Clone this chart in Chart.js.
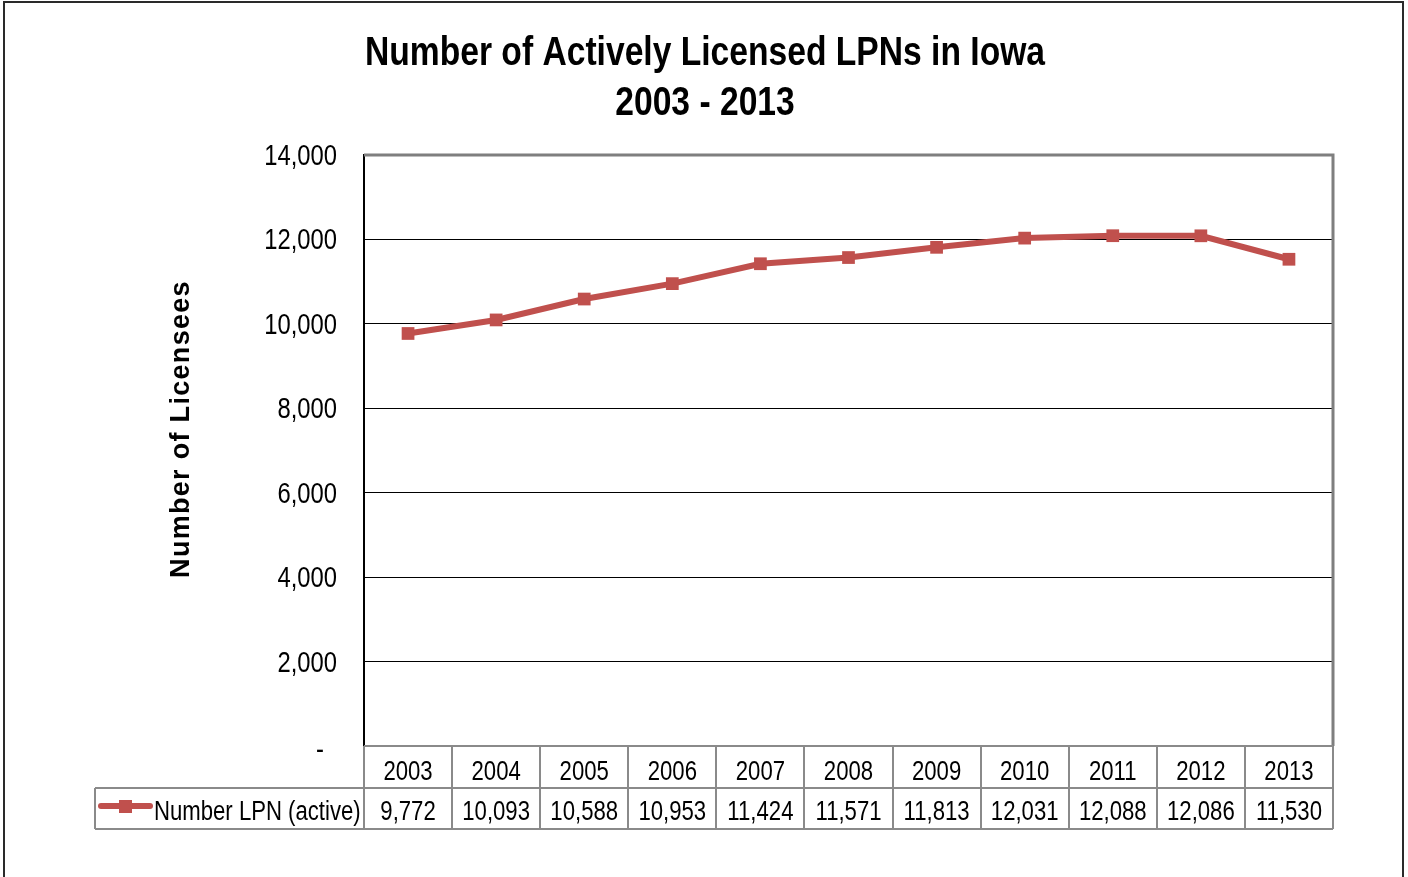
<!DOCTYPE html>
<html><head><meta charset="utf-8">
<script src="https://cdn.jsdelivr.net/npm/chart.js@4"></script>
<style>
html,body{margin:0;padding:0;background:#fff;overflow:hidden}
#frame{position:absolute;left:3px;top:1px;width:1401px;height:900px;border:2px solid #2a2a2a;box-sizing:border-box}
#c{position:absolute;left:0;top:0}
</style></head>
<body>
<div id="frame"></div>
<canvas id="c" width="1408" height="877"></canvas>
<script>
const years = ['2003','2004','2005','2006','2007','2008','2009','2010','2011','2012','2013'];
const lpnActive = [9772,10093,10588,10953,11424,11571,11813,12031,12088,12086,11530];
const seriesName = 'Number LPN (active)';
const titleLines = ['Number of Actively Licensed LPNs in Iowa','2003 - 2013'];
const yAxisTitle = 'Number of Licensees';
const yMin = 0, yMax = 14000, yStep = 2000;

const FONT = "'Liberation Sans',Arial,sans-serif";
const NARROW_SCALE = 0.82;
const RED = '#C0504D';
const GRAY = '#8a8a8a';
const fmt = v => v.toLocaleString('en-US');

function narrowText(ctx, text, x, y, align, font) {
  ctx.save();
  ctx.translate(x, y);
  ctx.scale(NARROW_SCALE, 1);
  ctx.font = font;
  ctx.textAlign = align;
  ctx.textBaseline = 'alphabetic';
  ctx.fillText(text, 0, 0);
  ctx.restore();
}

const decor = {
  id: 'decor',
  afterDraw(chart) {
    const ctx = chart.ctx;
    const ca = chart.chartArea;
    const xs = chart.scales.x;
    const ys = chart.scales.y;
    const n = years.length;
    const w = (ca.right - ca.left) / n;
    ctx.save();
    ctx.fillStyle = '#000';
    // Title
    narrowText(ctx, titleLines[0], 705, 65, 'center', "bold 41px " + FONT);
    narrowText(ctx, titleLines[1], 705, 115, 'center', "bold 41px " + FONT);
    // Y tick labels (from the scale's ticks)
    ys.ticks.forEach(t => {
      const py = ys.getPixelForValue(t.value);
      if (t.value === 0) {
        narrowText(ctx, '-', 324, py + 13, 'right', "29px " + FONT);
      } else {
        narrowText(ctx, fmt(t.value), 337, py + 10, 'right', "29px " + FONT);
      }
    });
    // Y axis title
    ctx.save();
    ctx.translate(189, 429);
    ctx.rotate(-Math.PI / 2);
    ctx.font = "bold 27px " + FONT;
    try { ctx.letterSpacing = '1.3px'; } catch (e) {}
    ctx.textAlign = 'center';
    ctx.fillText(yAxisTitle, 0, 0);
    ctx.restore();
    // plot frame top/right
    ctx.strokeStyle = '#7f7f7f';
    ctx.lineWidth = 3;
    ctx.beginPath();
    ctx.moveTo(ca.left, ca.top);
    ctx.lineTo(ca.right, ca.top);
    ctx.lineTo(ca.right, ca.bottom);
    ctx.stroke();
    // data table
    const rowTop = ca.bottom, rowMid = 788, rowBot = 829, legLeft = 95;
    ctx.strokeStyle = GRAY;
    ctx.lineWidth = 2;
    ctx.beginPath();
    ctx.moveTo(ca.left, rowTop); ctx.lineTo(ca.right, rowTop);
    ctx.moveTo(legLeft, rowMid); ctx.lineTo(ca.right, rowMid);
    ctx.moveTo(legLeft, rowBot); ctx.lineTo(ca.right, rowBot);
    ctx.moveTo(legLeft, rowMid); ctx.lineTo(legLeft, rowBot);
    for (let i = 0; i <= n; i++) {
      const x = Math.round(ca.left + i * w);
      ctx.moveTo(x, rowTop); ctx.lineTo(x, rowBot);
    }
    ctx.stroke();
    ctx.fillStyle = '#000';
    years.forEach((y, i) => {
      const cx = xs.getPixelForValue(i);
      narrowText(ctx, y, cx, 780, 'center', "27px " + FONT);
      narrowText(ctx, fmt(lpnActive[i]), cx, 820, 'center', "27px " + FONT);
    });
    // legend
    ctx.strokeStyle = RED;
    ctx.lineWidth = 6;
    ctx.lineCap = 'round';
    ctx.beginPath();
    ctx.moveTo(101, 806); ctx.lineTo(150, 806);
    ctx.stroke();
    ctx.fillStyle = RED;
    ctx.fillRect(119, 800, 13, 13);
    ctx.fillStyle = '#000';
    narrowText(ctx, seriesName, 154, 820, 'left', "27px " + FONT);
    ctx.restore();
  }
};

new Chart(document.getElementById('c'), {
  type: 'line',
  data: {
    labels: years,
    datasets: [{
      label: seriesName,
      data: lpnActive,
      borderColor: RED,
      backgroundColor: RED,
      borderWidth: 6,
      pointStyle: 'rect',
      pointRadius: 9,
      pointHoverRadius: 9,
      pointBorderWidth: 0,
      tension: 0,
      fill: false
    }]
  },
  options: {
    responsive: false,
    animation: false,
    devicePixelRatio: 1,
    layout: { padding: { top: 155, right: 75, bottom: 131, left: 0 } },
    plugins: { legend: { display: false }, title: { display: false }, tooltip: { enabled: false } },
    scales: {
      x: {
        type: 'category',
        offset: true,
        grid: { display: false },
        border: { display: false },
        ticks: { display: false },
        afterFit: s => { s.height = 0; }
      },
      y: {
        min: yMin, max: yMax,
        ticks: { stepSize: yStep, display: false },
        grid: { color: '#000', lineWidth: 1, drawTicks: false },
        border: { display: true, color: '#000', width: 2 },
        afterFit: s => { s.width = 364; }
      }
    }
  },
  plugins: [decor]
});
</script>
</body></html>
